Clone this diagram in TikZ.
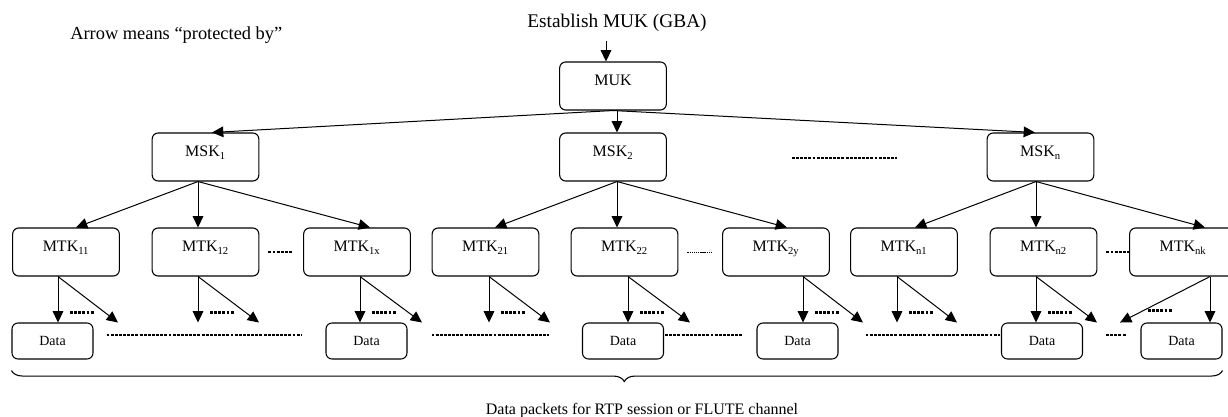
\documentclass[tikz,border=0pt]{standalone}
\usepackage{fontspec}
\setmainfont{Liberation Serif}
\usetikzlibrary{arrows.meta,decorations.pathreplacing}

\begin{document}
\begin{tikzpicture}[
  x=0.75pt, y=-0.75pt,
  keybox/.style={draw, rounded corners=4.5pt, line width=0.8pt, inner sep=0pt,
    minimum width=80pt, minimum height=36pt, text height=5pt, text depth=5pt,
    font=\fontsize{12}{14}\selectfont},
  databox/.style={keybox, minimum width=60.75pt, minimum height=27pt,
    text height=7pt, text depth=1pt, font=\fontsize{10.5}{12}\selectfont},
  arr/.style={line width=0.75pt, -{Triangle[length=8.5pt,width=8pt]}},
  dotline/.style={line width=1.6pt, dash pattern=on 2.2pt off 0.9pt},
  thindots/.style={line width=0.6pt, dash pattern=on 1pt off 0.6pt},
  ]
  \useasboundingbox (0,0) rectangle (1228,417);

  % captions
  \node[anchor=base west, inner sep=0pt, font=\fontsize{13.8}{16}\selectfont] (legend) at (70,40) {Arrow means “protected by”};
  \node[anchor=base, inner sep=0pt, font=\fontsize{14.5}{16}\selectfont] (est) at (617,28) {Establish MUK (GBA)};

  % key hierarchy
  \node[keybox] (muk) at (613,86) {MUK};
  \node[keybox] (msk1) at (205.5,157) {MSK\textsubscript{1}};
  \node[keybox] (msk2) at (613,157) {MSK\textsubscript{2}};
  \node[keybox] (mskn) at (1040.5,157) {MSK\textsubscript{n}};
  \foreach \nm/\cx/\lab in {mtk11/66/11, mtk12/205.5/12, mtk1x/357/1x,
      mtk21/485.5/21, mtk22/624.5/22, mtk2y/776/2y,
      mtkn1/904/n1, mtkn2/1043.5/n2, mtknk/1183/nk}
    \node[keybox] (\nm) at (\cx,252) {MTK\textsubscript{\lab}};
  \foreach \nm/\cx in {data1/52.5, data2/366.5, data3/623, data4/797.5, data5/1042, data6/1181.5}
    \node[databox] (\nm) at (\cx,341) {Data};

  % MUK
  \draw[arr] ([shift={(-7,0)}]muk.north |- est.south) ++(0,9) -- ([shift={(-7,0)}]muk.north);
  \draw[arr] (muk.south) -- ([shift={(6.5,0)}]msk1.north);
  \draw[arr] ([shift={(4,0)}]muk.south) -- ([shift={(4,0)}]msk2.north);
  \draw[arr] (muk.south) -- ([shift={(-5.5,0)}]mskn.north);

  % MSK -> MTK
  \draw[arr] ([shift={(-7.5,0)}]msk1.south) -- ([shift={(10,0)}]mtk11.north);
  \draw[arr] ([shift={(-7.5,0)}]msk1.south) -- ([shift={(-7.5,0)}]mtk12.north);
  \draw[arr] ([shift={(-7.5,0)}]msk1.south) -- ([shift={(13,0)}]mtk1x.north);
  \draw[arr] ([shift={(4,0)}]msk2.south) -- ([shift={(9.5,0)}]mtk21.north);
  \draw[arr] ([shift={(4,0)}]msk2.south) -- ([shift={(-7.5,0)}]mtk22.north);
  \draw[arr] ([shift={(4,0)}]msk2.south) -- ([shift={(11,0)}]mtk2y.north);
  \draw[arr] ([shift={(-4.5,0)}]mskn.south) -- ([shift={(11,0)}]mtkn1.north);
  \draw[arr] ([shift={(-4.5,0)}]mskn.south) -- ([shift={(-7.5,0)}]mtkn2.north);
  \draw[arr] ([shift={(-4.5,0)}]mskn.south) -- ([shift={(22,0)}]mtknk.north);

  % MTK -> data
  \foreach \nm/\off/\d in {mtk11/-8/60, mtk12/-7.5/61, mtk1x/3/62,
      mtk21/3.5/61, mtk22/3.5/62, mtk2y/27/60,
      mtkn1/-7/60, mtkn2/-7.5/61, mtknk/27/-90}{
    \draw[arr] ([shift={(\off,0)}]\nm.south) -- ++(\d,46);
  }
  \foreach \nm/\off in {mtk12/-7.5, mtk21/3.5, mtkn1/-7}
    \draw[arr] ([shift={(\off,0)}]\nm.south) -- ++(0,46);
  \foreach \nm/\off/\dt in {mtk11/-8/data1, mtk1x/3/data2, mtk22/3.5/data3,
      mtk2y/27/data4, mtkn2/-7.5/data5, mtknk/27/data6}
    \draw[arr] ([shift={(\off,0)}]\nm.south) -- ([shift={(\off,0)}]\nm.south |- \dt.north);
  \foreach \nm/\off in {mtk11/-8, mtk12/-7.5, mtk1x/3, mtk21/3.5, mtk22/3.5,
      mtk2y/27, mtkn1/-7, mtkn2/-7.5}
    \draw[dotline] ([shift={(\off+12,36)}]\nm.south) -- ++(24,0);
  \draw[dotline] ([shift={(-35,34)}]mtknk.south) -- ++(24,0);

  % dots between siblings
  \draw[dotline] ([shift={(125,1)}]msk2.east) -- ([shift={(-90,1)}]mskn.west);
  \draw[dotline] ([shift={(9,0)}]mtk12.east) -- ([shift={(-11,0)}]mtk1x.west);
  \draw[thindots] ([shift={(9,0)}]mtk22.east) -- ([shift={(-10,0)}]mtk2y.west);
  \draw[dotline] ([shift={(9,0)}]mtkn2.east) -- (mtknk.west);
  \draw[dotline] ([shift={(13,-6)}]data1.east) -- ([shift={(-23,-6)}]data2.west);
  \draw[dotline] ([shift={(24,-6)}]data2.east) -- ([shift={(-33,-6)}]data3.west);
  \draw[dotline] ([shift={(1,-6)}]data3.east) -- ([shift={(-13,-6)}]data4.west);
  \draw[dotline] ([shift={(27,-6)}]data4.east) -- ([shift={(-1,-6)}]data5.west);
  \draw[dotline] ([shift={(23,-6)}]data5.east) -- ([shift={(-14,-6)}]data6.west);

  % brace
  \draw[line width=0.8pt, decorate, decoration={brace, mirror, amplitude=8.25pt, aspect=0.506}]
    ([shift={(0,11)}]data1.south west) -- ([shift={(0,11)}]data6.south east);
  \node[anchor=base, inner sep=0pt, font=\fontsize{12}{14}\selectfont] (packets) at (642,414)
    {Data packets for RTP session or FLUTE channel};
\end{tikzpicture}
\end{document}
